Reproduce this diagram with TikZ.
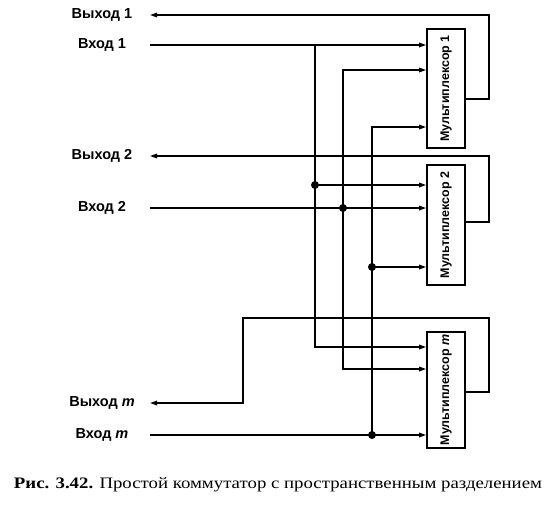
\documentclass[tikz,border=0pt]{standalone}
\usepackage{graphicx}
\usepackage{fontspec}
\setmainfont{Liberation Serif}
\newfontfamily\labfont{Liberation Sans}
\usetikzlibrary{arrows.meta}
\begin{document}
\begin{tikzpicture}[x=1pt,y=-1pt,
  wire/.style={line width=1.5pt},
  tip/.tip={Triangle[length=7pt,width=4.5pt]},
  arr/.style={wire,-tip},
  biarr/.style={wire,tip-tip},
  muxbox/.style={draw,line width=1.7pt,minimum width=38pt,inner sep=0pt,
    font=\labfont\bfseries\fontsize{12.5}{14}\selectfont},
  lab/.style={font=\labfont\bfseries\fontsize{14.5}{16}\selectfont,inner sep=0pt},
  dot/.style={circle,fill,inner sep=0pt,minimum size=8pt}]
\useasboundingbox (0,0) rectangle (552,509);

% multiplexers
\node[muxbox,minimum height=119pt] (m1) at (446,88.5) {\rotatebox{90}{Мультиплексор 1}};
\node[muxbox,minimum height=120pt] (m2) at (446,225) {\rotatebox{90}{Мультиплексор 2}};
\node[muxbox,minimum height=116pt] (mm) at (446,390) {\rotatebox{90}{Мультиплексор \textit{m}}};

% labels
\node[lab] (o1) at (102,15) {Выход 1};
\node[lab] (i1) at (102,45) {Вход 1};
\node[lab] (o2) at (102,156) {Выход 2};
\node[lab] (i2) at (102,208) {Вход 2};
\node[lab] (om) at (102,403) {Выход \textit{m}};
\node[lab] (im) at (102,435) {Вход \textit{m}};

% free ends
\coordinate (o1p) at (150,15);
\coordinate (i1p) at (150,45);
\coordinate (o2p) at (150,156);
\coordinate (i2p) at (150,208);
\coordinate (omp) at (150,403);
\coordinate (imp) at (150,435);

% bus junctions
\coordinate (a1) at (315,45);  \coordinate (a2) at (315,185); \coordinate (a3) at (315,347);
\coordinate (b1) at (343,70);  \coordinate (b2) at (343,208); \coordinate (b3) at (343,369);
\coordinate (c1) at (372,127); \coordinate (c2) at (372,267); \coordinate (c3) at (372,435);

% feedback corners
\coordinate (f1) at (489,99);
\coordinate (f2) at (489,222);
\coordinate (fm) at (489,392);
\coordinate (gm) at (243,318);

% inputs
\draw[arr] (i1p) -- (i1p -| m1.west);
\draw[arr] (i2p) -- (i2p -| m2.west);
\draw[arr] (imp) -- (imp -| mm.west);

% distribution buses
\draw[arr] (a1) -- (a3) -- (a3 -| mm.west);
\draw[arr] (a2) -- (a2 -| m2.west);
\draw[biarr] (b1 -| m1.west) -- (b1) -- (b3) -- (b3 -| mm.west);
\draw[arr] (c3) -- (c1) -- (c1 -| m1.west);
\draw[arr] (c2) -- (c2 -| m2.west);

% outputs
\draw[arr] (f1 -| m1.east) -- (f1) -- (f1 |- o1p) -- (o1p);
\draw[arr] (f2 -| m2.east) -- (f2) -- (f2 |- o2p) -- (o2p);
\draw[arr] (fm -| mm.east) -- (fm) -- (fm |- gm) -- (gm) -- (gm |- omp) -- (omp);

% junction dots
\node[dot] (d1) at (a2) {};
\node[dot] (d2) at (b2) {};
\node[dot] (d3) at (c2) {};
\node[dot] (d4) at (c3) {};

% caption
\node[inner sep=0pt] (cap) at (278,485) {\resizebox{528pt}{\height}{\fontsize{16}{18}\selectfont\textbf{Рис. 3.42.} Простой коммутатор с пространственным разделением}};
\end{tikzpicture}
\end{document}
